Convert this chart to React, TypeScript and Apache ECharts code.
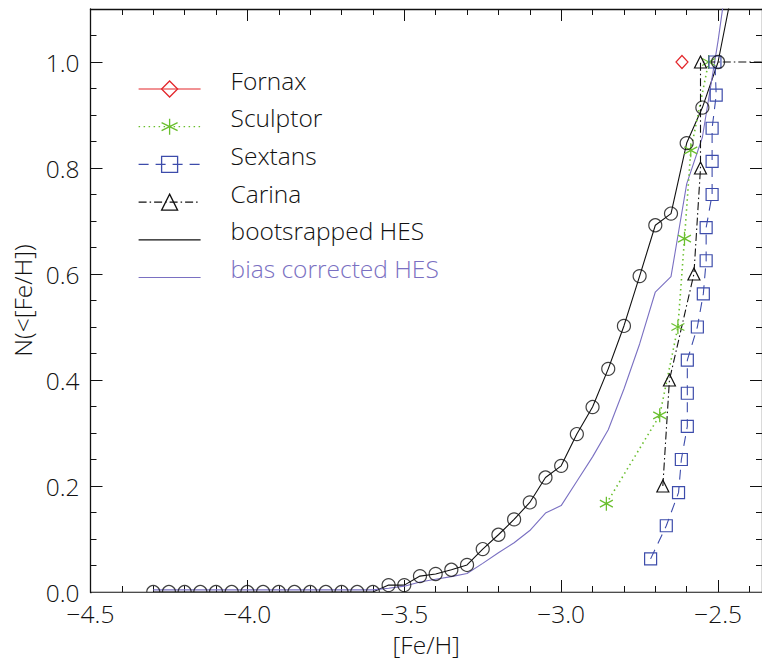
import React, { useEffect, useRef } from "react";
import * as echarts from "echarts";

// ---- data ----
const hesFeH = [
  -4.3, -4.25, -4.2, -4.15, -4.1, -4.05, -4.0, -3.95, -3.9, -3.85, -3.8, -3.75, -3.7, -3.65, -3.6,
  -3.55, -3.5, -3.45, -3.4, -3.35, -3.3, -3.25, -3.2, -3.15, -3.1, -3.05, -3.0, -2.95, -2.9,
  -2.85, -2.8, -2.75, -2.7, -2.65, -2.6, -2.55, -2.5,
];
const hesBootstrapped = [
  0, 0, 0, 0, 0, 0, 0, 0, 0, 0, 0, 0, 0, 0, 0,
  0.013, 0.013, 0.03, 0.034, 0.042, 0.051, 0.081, 0.108, 0.137, 0.169, 0.216, 0.238, 0.298, 0.349,
  0.421, 0.502, 0.596, 0.692, 0.714, 0.847, 0.914, 1.0,
];
const hesBiasCorrected = [
  0.004, 0.004, 0.004, 0.004, 0.004, 0.004, 0.004, 0.004, 0.004, 0.004, 0.004, 0.004, 0.004, 0.004, 0.004,
  0.007, 0.011, 0.019, 0.024, 0.029, 0.035, 0.054, 0.074, 0.093, 0.116, 0.149, 0.163, 0.209, 0.255,
  0.306, 0.383, 0.468, 0.566, 0.595, 0.77, 0.858, 1.04,
];
// lines continue beyond the top of the frame
const hesTailFeH = [-2.45];
const hesTailBootstrapped = [1.15];
const hesTailBiasCorrected = [1.25];

const fornaxFeH = [-2.615];
const fornaxN = [1.0];

const sculptorFeH = [-2.856, -2.686, -2.628, -2.607, -2.587, -2.53];
const sculptorN = [0.1667, 0.3333, 0.5, 0.6667, 0.8333, 1.0];

const sextansFeH = [
  -2.715, -2.665, -2.626, -2.617, -2.598, -2.598, -2.598, -2.566,
  -2.547, -2.538, -2.538, -2.519, -2.519, -2.519, -2.506, -2.51,
];
const sextansN = [
  0.0625, 0.125, 0.1875, 0.25, 0.3125, 0.375, 0.4375, 0.5,
  0.5625, 0.625, 0.6875, 0.75, 0.8125, 0.875, 0.9375, 1.0,
];

const carinaFeH = [-2.676, -2.655, -2.577, -2.556, -2.556];
const carinaN = [0.2, 0.4, 0.6, 0.8, 1.0];
const carinaTailFeH = [-2.3];
const carinaTailN = [1.0];

const xTicksMajor = 0.5;
const xTicksMinor = 0.1;
const yTicksMajor = 0.2;
const yTicksMinor = 0.05;

const legendNames = ["Fornax", "Sculptor", "Sextans", "Carina", "bootsrapped HES", "bias corrected HES"];

// ---- styles ----
const FONT = "'Open Sans', 'Liberation Sans', Arial, sans-serif";
const FONT_SIZE = 24.5;
const FONT_WEIGHT = 300;
const BLACK = "#111111";
const RED = "#e3262b";
const GREEN = "#6abf2e";
const BLUE = "#3d4cab";
const PURPLE = "#7a70c2";
const ASTERISK = "path://M0,-10 L0,10 M-8.66,-5 L8.66,5 M-8.66,5 L8.66,-5";

const X_MIN = -4.5;
const X_MAX = -2.36;
const Y_MIN = 0;
const Y_MAX = 1.1;

const pairs = (xs: number[], ys: number[]) => xs.map((x, i) => [x, ys[i]]);
const fmt = (v: number) => v.toFixed(1).replace("-", "\u2212");

const textBase = { fontSize: FONT_SIZE, color: BLACK, fontFamily: FONT, fontWeight: FONT_WEIGHT };

function xAxis(position: "bottom" | "top", interval: number, major: boolean, withLabels: boolean) {
  return {
    type: "value",
    position,
    min: X_MIN,
    max: X_MAX,
    interval,
    axisLine: { show: major, onZero: false, lineStyle: { color: BLACK, width: 1.3 } },
    axisTick: { show: true, inside: true, length: major ? 12 : 6, lineStyle: { color: BLACK, width: 1 } },
    axisLabel: {
      show: withLabels,
      showMaxLabel: false,
      margin: 13,
      lineHeight: 16,
      ...textBase,
      formatter: (v: number) => fmt(v),
    },
    splitLine: { show: false },
    ...(withLabels
      ? {
          name: "[Fe/H]",
          nameLocation: "middle",
          nameGap: 40,
          nameTextStyle: { ...textBase },
        }
      : {}),
  };
}

function yAxis(position: "left" | "right", interval: number, major: boolean, withLabels: boolean) {
  return {
    type: "value",
    position,
    min: Y_MIN,
    max: Y_MAX,
    interval,
    axisLine: { show: major, onZero: false, lineStyle: { color: BLACK, width: 1.3 } },
    axisTick: { show: true, inside: true, length: major ? 12 : 6, lineStyle: { color: BLACK, width: 1 } },
    axisLabel: {
      show: withLabels,
      showMaxLabel: false,
      margin: 11,
      lineHeight: 16,
      ...textBase,
      formatter: (v: number) => v.toFixed(1),
    },
    splitLine: { show: false },
    ...(withLabels
      ? {
          name: "N(<[Fe/H])",
          nameLocation: "middle",
          nameGap: 56,
          nameTextStyle: { ...textBase },
        }
      : {}),
  };
}

const markerStyle = (c: string) => ({ color: "transparent", borderColor: c, borderWidth: 1.2 });

const option = {
  animation: false,
  backgroundColor: "#ffffff",
  grid: { left: 90.5, top: 9, right: 0, bottom: 70, containLabel: false },
  xAxis: [
    xAxis("bottom", xTicksMajor, true, true),
    xAxis("bottom", xTicksMinor, false, false),
    xAxis("top", xTicksMajor, true, false),
    xAxis("top", xTicksMinor, false, false),
  ],
  yAxis: [
    yAxis("left", yTicksMajor, true, true),
    yAxis("left", yTicksMinor, false, false),
    yAxis("right", yTicksMajor, true, false),
    yAxis("right", yTicksMinor, false, false),
  ],
  legend: {
    orient: "vertical",
    left: 138,
    top: 67.5,
    padding: 0,
    itemWidth: 62,
    itemHeight: 20,
    itemGap: 3.7,
    selectedMode: false,
    data: legendNames.map((n) =>
      n === "bias corrected HES" ? { name: n, textStyle: { color: PURPLE } } : { name: n }
    ),
    formatter: (name: string) => `{t|${name}}\n{s| }`,
    textStyle: {
      ...textBase,
      padding: [0, 0, 0, 25],
      rich: {
        t: { fontSize: FONT_SIZE, fontFamily: FONT, fontWeight: FONT_WEIGHT, lineHeight: 23 },
        s: { fontSize: 2, lineHeight: 18 },
      },
    },
    itemStyle: { borderWidth: 1.3 },
    lineStyle: { width: 1.2 },
  },
  graphic: [
    {
      type: "rect",
      z: 50,
      silent: true,
      shape: { x: 91.5, y: 592.8, width: 670.5, height: 8 },
      style: { fill: "#ffffff" },
    },
  ],
  series: [
    {
      name: "Fornax",
      type: "line",
      data: pairs(fornaxFeH, fornaxN),
      symbol: "diamond",
      symbolSize: [12, 13],
      itemStyle: markerStyle(RED),
      lineStyle: { color: RED, width: 1.2, type: "solid" },
      emphasis: { disabled: true },
      z: 3,
    },
    {
      name: "Sculptor",
      type: "line",
      data: pairs(sculptorFeH, sculptorN),
      symbol: ASTERISK,
      symbolSize: [13, 14],
      itemStyle: { color: GREEN, borderColor: GREEN, borderWidth: 1.3 },
      lineStyle: { color: GREEN, width: 1.6, type: [1.5, 3.5] },
      emphasis: { disabled: true },
      z: 3,
    },
    {
      name: "Sextans",
      type: "line",
      data: pairs(sextansFeH, sextansN),
      symbol: "rect",
      symbolSize: 12,
      itemStyle: markerStyle(BLUE),
      lineStyle: { color: BLUE, width: 1.1, type: [10, 7] },
      emphasis: { disabled: true },
      z: 3,
    },
    {
      name: "Carina",
      type: "line",
      data: [
        ...pairs(carinaFeH, carinaN),
        ...pairs(carinaTailFeH, carinaTailN).map((p) => ({ value: p, symbol: "none" })),
      ],
      symbol: "triangle",
      symbolSize: [12, 12],
      itemStyle: markerStyle(BLACK),
      lineStyle: { color: BLACK, width: 1.1, type: [8, 3, 1.5, 3] },
      emphasis: { disabled: true },
      z: 3,
    },
    {
      name: "bootsrapped HES",
      type: "line",
      data: [...pairs(hesFeH, hesBootstrapped), ...pairs(hesTailFeH, hesTailBootstrapped)],
      symbol: "rect",
      showSymbol: false,
      itemStyle: { color: "transparent", borderColor: "transparent", borderWidth: 0 },
      lineStyle: { color: BLACK, width: 1.1, type: "solid" },
      emphasis: { disabled: true },
      z: 2,
    },
    {
      name: "bias corrected HES",
      type: "line",
      data: [...pairs(hesFeH, hesBiasCorrected), ...pairs(hesTailFeH, hesTailBiasCorrected)],
      symbol: "rect",
      showSymbol: false,
      itemStyle: { color: "transparent", borderColor: "transparent", borderWidth: 0 },
      lineStyle: { color: PURPLE, width: 1.1, type: "solid" },
      emphasis: { disabled: true },
      z: 2,
    },
    {
      name: "HES bins",
      type: "scatter",
      data: pairs(hesFeH, hesBootstrapped),
      symbol: "circle",
      symbolSize: 13,
      itemStyle: markerStyle(BLACK),
      emphasis: { disabled: true },
      z: 4,
    },
  ],
};

export default function App() {
  const ref = useRef<HTMLDivElement>(null);
  useEffect(() => {
    if (!ref.current) return;
    const chart = echarts.init(ref.current, undefined, { renderer: "svg" });
    chart.setOption(option as any);
    return () => chart.dispose();
  }, []);
  return (
    <div
      ref={ref}
      style={{ position: "fixed", left: 0, top: 0, width: 762, height: 662, background: "#ffffff" }}
    />
  );
}
